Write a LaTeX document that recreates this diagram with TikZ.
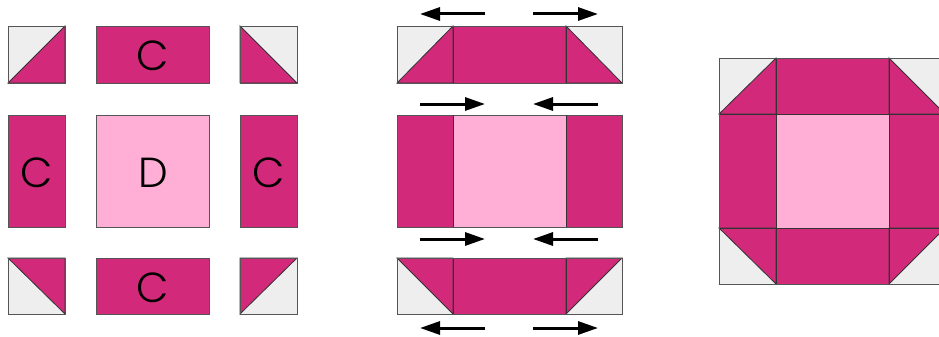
\documentclass[tikz,border=0pt]{standalone}
\usepackage{fontspec}
\setmainfont{Poppins}[UprightFont={* Light}]
\usetikzlibrary{arrows.meta}
\definecolor{mag}{HTML}{D2297A}
\definecolor{pinkD}{HTML}{FFAED6}
\definecolor{grayL}{HTML}{EEEEEE}
\definecolor{edgeC}{HTML}{555555}
\tikzset{
  magpatch/.style={fill=mag,draw=edgeC,line width=0.9pt},
  pinkpatch/.style={fill=pinkD,draw=edgeC,line width=0.9pt},
  graypatch/.style={fill=grayL,draw=edgeC,line width=0.9pt},
  tri/.style={fill=mag},
  seam/.style={draw=black!80,line width=0.8pt},
  lbl/.style={font=\fontsize{42}{44}\selectfont,text=black,inner sep=0pt},
  press/.style={line width=3pt,-{Triangle[length=20pt,width=13pt]}}
}
% half-square triangle: #1,#2 = corners of square, #3 = triangle path
\newcommand\hsqr[3]{%
  \path[graypatch] (#1) rectangle (#2);
  \fill[mag] #3 -- cycle;
  \draw[seam] #3 -- cycle;
  \draw[draw=edgeC,line width=0.9pt] (#1) rectangle (#2);
}
\begin{document}
\begin{tikzpicture}[x=1pt,y=-1pt]
\useasboundingbox (0,0) rectangle (939,337);
\begin{scope}
\clip (0,0) rectangle (939,337);
% ---------- left: exploded pieces ----------
\hsqr{8,26}{65,83}{(8,83) -- (65,83) -- (65,26)}
\hsqr{240,26}{297,83}{(240,26) -- (240,83) -- (297,83)}
\hsqr{8,258}{65,314}{(8,258) -- (65,258) -- (65,314)}
\hsqr{240,258}{297,314}{(240,258) -- (297,258) -- (240,314)}
\path[magpatch] (96,26) rectangle (209,83);
\node[lbl] (c1) at (153,56) {C};
\path[magpatch] (8,115) rectangle (65,227);
\node[lbl] (c2) at (37,172.5) {C};
\path[pinkpatch] (96,115) rectangle (209,227);
\node[lbl] (d1) at (153,172.5) {D};
\path[magpatch] (240,115) rectangle (297,227);
\node[lbl] (c3) at (269,172.5) {C};
\path[magpatch] (96,258) rectangle (209,314);
\node[lbl] (c4) at (153,287.5) {C};
% ---------- middle: rows ----------
\hsqr{397,26}{453,83}{(397,83) -- (453,83) -- (453,26)}
\path[magpatch] (453,26) rectangle (566,83);
\hsqr{566,26}{622,83}{(566,26) -- (566,83) -- (622,83)}
\draw[seam] (453,26) -- (453,83) (566,26) -- (566,83);
\draw[draw=edgeC,line width=0.9pt] (397,26) rectangle (622,83);

\path[magpatch] (397,115) rectangle (453,227);
\path[pinkpatch] (453,115) rectangle (566,227);
\path[magpatch] (566,115) rectangle (622,227);
\draw[seam] (453,115) -- (453,227) (566,115) -- (566,227);

\hsqr{397,258}{453,314}{(397,258) -- (453,258) -- (453,314)}
\path[magpatch] (453,258) rectangle (566,314);
\hsqr{566,258}{622,314}{(566,258) -- (622,258) -- (566,314)}
\draw[seam] (453,258) -- (453,314) (566,258) -- (566,314);
\draw[draw=edgeC,line width=0.9pt] (397,258) rectangle (622,314);
% arrows
\coordinate (a1s) at (485,14);  \coordinate (a1e) at (420,14);
\coordinate (a2s) at (533,14);  \coordinate (a2e) at (598,14);
\coordinate (b1s) at (420,104); \coordinate (b1e) at (485,104);
\coordinate (b2s) at (598,104); \coordinate (b2e) at (533,104);
\coordinate (c1s) at (420,239); \coordinate (c1e) at (485,239);
\coordinate (c2s) at (598,239); \coordinate (c2e) at (533,239);
\coordinate (d1s) at (485,328); \coordinate (d1e) at (420,328);
\coordinate (d2s) at (533,328); \coordinate (d2e) at (598,328);
\draw[press] (a1s) -- (a1e);
\draw[press] (a2s) -- (a2e);
\draw[press] (b1s) -- (b1e);
\draw[press] (b2s) -- (b2e);
\draw[press] (c1s) -- (c1e);
\draw[press] (c2s) -- (c2e);
\draw[press] (d1s) -- (d1e);
\draw[press] (d2s) -- (d2e);
% ---------- right: finished block ----------
\hsqr{719,58}{776,114}{(719,114) -- (776,114) -- (776,58)}
\path[magpatch] (776,58) rectangle (889,114);
\hsqr{889,58}{945,114}{(889,58) -- (889,114) -- (945,114)}
\path[magpatch] (719,114) rectangle (776,228);
\path[pinkpatch] (776,114) rectangle (889,228);
\path[magpatch] (889,114) rectangle (945,228);
\hsqr{719,228}{776,284}{(719,228) -- (776,228) -- (776,284)}
\path[magpatch] (776,228) rectangle (889,284);
\hsqr{889,228}{945,284}{(889,228) -- (945,228) -- (889,284)}
\draw[seam] (776,58) -- (776,284) (889,58) -- (889,284)
            (719,114) -- (945,114) (719,228) -- (945,228);
\draw[draw=edgeC,line width=0.9pt] (719,58) rectangle (945,284);
\end{scope}
\end{tikzpicture}
\end{document}
